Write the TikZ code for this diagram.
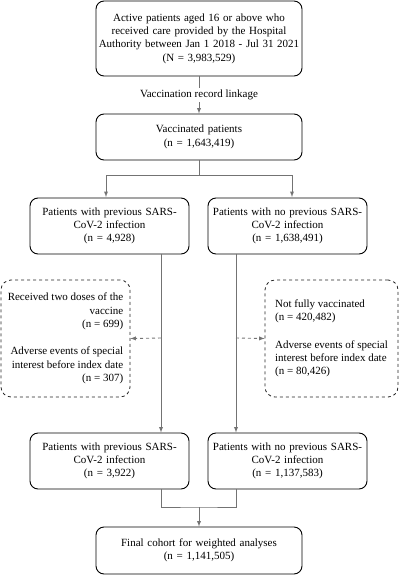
\documentclass[tikz,border=0pt]{standalone}
\usepackage{fontspec}
\setmainfont{Liberation Serif}
\usetikzlibrary{positioning,calc}
\tikzset{
	box/.style={draw,rounded corners=8pt,line width=0.9pt,align=center,inner sep=2pt,font=\fontsize{11}{13.3}\selectfont},
	dbox/.style={draw=black!85,dashed,rounded corners=10pt,line width=0.8pt,inner sep=3pt,font=\fontsize{11}{13.3}\selectfont},
	link/.style={draw=black!55,line width=0.9pt},
	go/.style={link,-latex},
}
\begin{document}
\begin{tikzpicture}[x=1pt,y=-1pt]
	\useasboundingbox (0,0) rectangle (400,579);
	% main column
	\node[box,text width=202,minimum height=75] (all) at (199,38.5) {Active patients aged 16 or above who\\received care provided by the Hospital\\Authority between Jan 1 2018 - Jul 31 2021\\(N = 3,983,529)};
	\node[box,text width=202,minimum height=46] (vac) at (199,137) {Vaccinated patients\\ (n = 1,643,419)};
	\node[box,text width=155,minimum height=56] (prevA) at (109.5,226) {Patients with previous SARS-\\CoV-2 infection\\(n = 4,928)};
	\node[box,text width=155,minimum height=56] (noprevA) at (287.5,226) {Patients with no previous SARS-\\CoV-2 infection\\(n = 1,638,491)};
	\node[box,text width=155,minimum height=56] (prevB) at (109.5,461) {Patients with previous SARS-\\CoV-2 infection\\(n = 3,922)};
	\node[box,text width=155,minimum height=56] (noprevB) at (287.5,461) {Patients with no previous SARS-\\CoV-2 infection\\(n = 1,137,583)};
	\node[box,text width=202,minimum height=47] (final) at (199,550.5) {Final cohort for weighted analyses\\(n = 1,141,505)};
	% exclusions
	\node[dbox,minimum width=129,minimum height=117] (exA) at (65.5,338.5) {\begin{tabular}{@{}r@{}}Received two doses of the\\vaccine\\(n = 699)\\[14pt]Adverse events of special\\interest before index date\\(n = 307)\end{tabular}};
	\node[dbox,minimum width=133,minimum height=117] (exB) at (331.5,338.5) {\begin{tabular}{@{}l@{}}Not fully vaccinated\\(n = 420,482)\\[14pt]Adverse events of special\\interest before index date\\(n = 80,426)\end{tabular}};

	\draw[go] (all) -- node[fill=white,inner sep=2pt,font=\fontsize{11}{13.3}\selectfont] (lk) {Vaccination record linkage} (vac);
	\coordinate (split) at (199,175);
	\draw[link] (vac.south) -- (split);
	\draw[go] (split) -| (106,197);
	\draw[go] (split) -| (292,197);

	\coordinate (a1) at (161,253.5); \coordinate (a2) at (161,432.5);
	\coordinate (b1) at (236,253.5); \coordinate (b2) at (236,432.5);
	\draw[go] (a1) -- (a2);
	\draw[go] (b1) -- (b2);
	\draw[link,dashed,-latex] (161,338) -- (exA.east);
	\draw[link,dashed,-latex] (236,338) -- (exB.west);

	\coordinate (merge) at (199,507);
	\draw[link] (161,489) |- (merge) -| (236,489);
	\draw[go] (merge) -- (final.north);
\end{tikzpicture}
\end{document}
